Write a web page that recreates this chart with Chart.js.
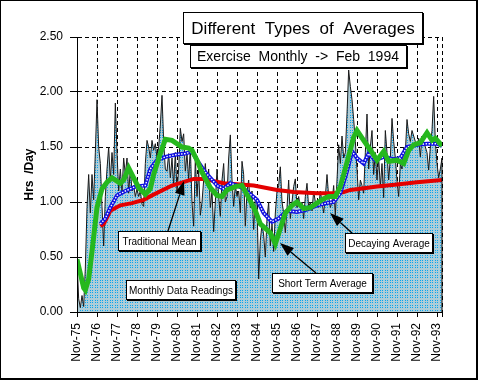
<!DOCTYPE html>
<html>
<head>
<meta charset="utf-8">
<script src="https://cdn.jsdelivr.net/npm/chart.js@4"></script>
<style>
  body { margin: 0; background: #fff; }
  canvas { display: block; }
</style>
</head>
<body>
<canvas id="avgChart" width="478" height="380"></canvas>
<script>
// one tick label per November
const yearLabels = ["Nov-75", "Nov-76", "Nov-77", "Nov-78", "Nov-79", "Nov-80", "Nov-81",
  "Nov-82", "Nov-83", "Nov-84", "Nov-85", "Nov-86", "Nov-87", "Nov-88", "Nov-89",
  "Nov-90", "Nov-91", "Nov-92", "Nov-93"];

// monthly readings, Nov-75 .. Feb-94 (hrs/day)
const readings = [
  0.48, 0.12, 0.04, 0.15, 0.05, 0.40, 0.95, 1.25, 0.90, 1.25, 1.02, 1.45,
  1.93, 1.50, 1.35, 0.96, 0.60, 1.05, 1.30, 1.50, 1.20, 1.45, 1.25, 1.90,
  1.45, 1.10, 1.30, 1.10, 1.40, 1.25, 1.40, 1.08, 1.30, 1.10, 1.15, 1.05,
  1.12, 1.05, 1.10, 0.98, 0.96, 1.35, 1.56, 1.50, 1.40, 1.56, 1.47, 1.53,
  1.40, 1.50, 1.70, 1.97, 1.55, 1.30, 1.28, 1.44, 1.22, 1.40, 1.15, 1.45,
  1.10, 1.30, 1.67, 1.55, 1.62, 1.28, 1.44, 1.20, 1.50, 1.00, 0.78, 1.40,
  1.05, 1.30, 0.88, 1.00, 1.20, 1.35, 1.15, 1.30, 0.95, 1.10, 0.73, 1.00,
  1.30, 1.05, 0.87, 1.20, 1.35, 1.00, 1.05, 1.40, 1.61, 1.20, 0.96, 1.15,
  1.05, 1.10, 0.90, 1.37, 1.25, 0.78, 1.10, 1.20, 0.95, 1.10, 0.75, 1.05,
  1.00, 0.30, 0.65, 0.80, 0.70, 0.50, 0.85, 1.00, 0.60, 0.80, 0.55, 0.90,
  1.10, 1.15, 1.32, 1.00, 0.90, 0.72, 0.95, 1.20, 0.85, 1.00, 1.14, 1.21,
  0.95, 1.05, 0.95, 1.00, 0.85, 1.05, 1.17, 0.95, 1.00, 0.92, 1.10, 1.00,
  0.98, 0.95, 1.10, 1.00, 0.90, 1.05, 1.25, 1.05, 0.95, 1.00, 1.15, 0.88,
  1.20, 1.52, 1.35, 1.60, 1.40, 1.45, 1.80, 2.20, 2.05, 1.93, 1.75, 1.55,
  1.30, 1.02, 1.20, 1.15, 1.08, 1.45, 1.80, 1.30, 1.50, 1.65, 1.25, 1.45,
  1.20, 1.40, 1.14, 1.35, 1.04, 1.65, 1.45, 1.20, 1.40, 1.76, 1.55, 1.40,
  1.20, 1.05, 1.35, 1.30, 1.50, 1.45, 1.75, 1.62, 1.55, 1.65, 1.60, 1.55,
  1.50, 1.58, 1.41, 1.60, 1.55, 1.50, 1.45, 1.29, 1.50, 1.65, 1.96, 1.55,
  1.35, 1.22, 1.30, 1.40
];

// traditional mean (month index from Nov-75, value)
const meanMonths = [14, 16, 20, 26, 33, 40, 45, 57, 70, 76, 88, 106, 120, 130, 144, 156,
  160, 164, 170, 180, 192, 204, 219];
const meanHrs = [0.78, 0.80, 0.92, 0.97, 0.99, 1.02, 1.06, 1.15, 1.21, 1.21, 1.17, 1.15,
  1.11, 1.09, 1.08, 1.08, 1.09, 1.11, 1.12, 1.14, 1.16, 1.18, 1.20];

// decaying average
const decayMonths = [14, 17, 20, 24, 29, 35, 41, 44, 48, 53, 59, 65, 69, 72, 77, 80, 84, 88,
  92, 96, 100, 104, 108, 112, 117, 121, 126, 132, 138, 144, 150, 154, 158, 162, 165, 168,
  172, 175, 179, 184, 190, 194, 198, 204, 210, 216, 219];
const decayHrs = [0.80, 0.85, 0.95, 1.06, 1.10, 1.14, 1.15, 1.30, 1.38, 1.41, 1.43, 1.44,
  1.46, 1.38, 1.27, 1.22, 1.15, 1.12, 1.17, 1.15, 1.12, 1.07, 1.02, 0.90, 0.82, 0.85, 0.92,
  0.91, 0.93, 0.97, 0.99, 1.00, 1.08, 1.28, 1.46, 1.40, 1.35, 1.44, 1.38, 1.41, 1.39, 1.40,
  1.50, 1.52, 1.53, 1.53, 1.51];

// short term average
const shortMonths = [0, 2, 4, 5, 7, 9, 12, 15, 18, 21, 24, 26, 28, 31, 34, 37, 41, 44, 46,
  50, 53, 57, 63, 67, 69, 72, 75, 80, 84, 87, 90, 95, 99, 103, 107, 110, 113, 116, 119,
  122, 125, 129, 132, 136, 140, 144, 148, 151, 155, 158, 162, 166, 168, 172, 177, 180,
  184, 187, 192, 196, 199, 202, 206, 210, 213, 215, 219];
const shortHrs = [0.48, 0.35, 0.22, 0.20, 0.30, 0.55, 0.95, 1.12, 1.18, 1.22, 1.19, 1.17,
  1.20, 1.31, 1.22, 1.13, 1.07, 1.12, 1.25, 1.44, 1.57, 1.56, 1.50, 1.49, 1.47, 1.38, 1.27,
  1.13, 1.06, 1.05, 1.11, 1.14, 1.15, 1.04, 0.92, 0.80, 0.76, 0.72, 0.62, 0.76, 0.90, 0.97,
  1.00, 0.94, 0.95, 0.99, 1.03, 1.05, 1.05, 1.14, 1.36, 1.59, 1.65, 1.56, 1.45, 1.38, 1.46,
  1.37, 1.38, 1.35, 1.47, 1.52, 1.54, 1.63, 1.56, 1.58, 1.51];

const pairs = (xs, ys) => xs.map((m, i) => ({ x: m, y: ys[i] }));

// dotted fill like the old mac pattern
function dotPattern() {
  const c = document.createElement("canvas");
  c.width = 5;
  c.height = 5;
  const g = c.getContext("2d");
  g.fillStyle = "#aecdd8";
  g.fillRect(0, 0, 5, 5);
  g.fillStyle = "#0aa4ee";
  [[0, 0], [2, 0], [0, 2], [2, 2]].forEach(([x, y]) => g.fillRect(x, y, 1, 1));
  return g.createPattern(c, "repeat");
}

function drawBox(ctx, x, y, w, h) {
  ctx.fillStyle = "#000";
  ctx.fillRect(x + 1, y + 1, w, h);
  ctx.fillStyle = "#fff";
  ctx.fillRect(x, y, w, h);
  ctx.strokeStyle = "#000";
  ctx.lineWidth = 1;
  ctx.strokeRect(x + 0.5, y + 0.5, w - 1, h - 1);
}

function drawArrow(ctx, x1, y1, x2, y2) {
  const a = Math.atan2(y2 - y1, x2 - x1);
  const len = 14, half = 5;
  const bx = x2 - len * Math.cos(a), by = y2 - len * Math.sin(a);
  ctx.strokeStyle = "#000";
  ctx.fillStyle = "#000";
  ctx.lineWidth = 1.3;
  ctx.beginPath();
  ctx.moveTo(x1, y1);
  ctx.lineTo(bx, by);
  ctx.stroke();
  ctx.beginPath();
  ctx.moveTo(x2, y2);
  ctx.lineTo(bx + half * Math.sin(a), by - half * Math.cos(a));
  ctx.lineTo(bx - half * Math.sin(a), by + half * Math.cos(a));
  ctx.closePath();
  ctx.fill();
}

// labels on the chart
const notes = [
  { text: "Traditional Mean", box: [118, 231, 83, 20], arrow: [168, 231, 184, 181] },
  { text: "Monthly Data Readings", box: [126, 280, 110, 20] },
  { text: "Short Term Average", box: [272, 273, 101, 20], arrow: [316, 273, 280, 243] },
  { text: "Decaying Average", box: [345, 233, 88, 20], arrow: [352, 233, 330, 213] }
];

const decorations = {
  id: "decorations",
  afterDatasetsDraw(chart) {
    const { ctx, chartArea: a, scales } = chart;
    ctx.save();
    // solid axes and right edge of the reading area
    ctx.strokeStyle = "#000";
    ctx.lineWidth = 1;
    ctx.beginPath();
    ctx.moveTo(a.left + 0.5, a.top);
    ctx.lineTo(a.left + 0.5, a.bottom + 0.5);
    ctx.lineTo(a.right, a.bottom + 0.5);
    const lastX = scales.x.getPixelForValue(readings.length - 1);
    ctx.moveTo(lastX, scales.y.getPixelForValue(readings[readings.length - 1]));
    ctx.lineTo(lastX, a.bottom);
    ctx.stroke();
    ctx.restore();
  },
  afterDraw(chart) {
    const ctx = chart.ctx;
    ctx.save();
    ctx.textAlign = "center";
    ctx.textBaseline = "middle";
    notes.forEach((n) => {
      if (n.arrow) drawArrow(ctx, ...n.arrow);
      drawBox(ctx, ...n.box);
      ctx.fillStyle = "#000";
      ctx.font = "10px 'Liberation Sans'";
      ctx.fillText(n.text, n.box[0] + n.box[2] / 2, n.box[1] + n.box[3] / 2 + 1);
    });
    drawBox(ctx, 183, 12, 240, 32);
    ctx.fillStyle = "#000";
    ctx.font = "17px 'Liberation Sans'";
    ctx.fillText("Different  Types  of  Averages", 303, 29);
    drawBox(ctx, 190, 45, 217, 23);
    ctx.fillStyle = "#000";
    ctx.font = "14px 'Liberation Sans'";
    ctx.fillText("Exercise  Monthly  ->  Feb  1994", 298, 57);
    // frame
    ctx.fillRect(0, 0, 478, 1);
    ctx.fillRect(0, 0, 1, 380);
    ctx.fillRect(476, 0, 2, 380);
    ctx.fillRect(0, 378, 478, 2);
    ctx.restore();
  }
};

Chart.defaults.font.family = "'Liberation Sans', Arial, sans-serif";
Chart.defaults.color = "#000";

const ctx = document.getElementById("avgChart").getContext("2d");
new Chart(ctx, {
  type: "line",
  data: {
    datasets: [
      {
        label: "Short Term Average",
        data: pairs(shortMonths, shortHrs),
        borderColor: "#26b81e",
        borderWidth: 5,
        order: 0
      },
      {
        label: "Decaying Average dots",
        data: pairs(decayMonths, decayHrs),
        borderColor: "#ffffff",
        borderWidth: 1.4,
        borderDash: [1.5, 1.5],
        order: 1
      },
      {
        label: "Decaying Average",
        data: pairs(decayMonths, decayHrs),
        borderColor: "#1010e0",
        borderWidth: 4,
        order: 2
      },
      {
        label: "Traditional Mean",
        data: pairs(meanMonths, meanHrs),
        borderColor: "#e40000",
        borderWidth: 4,
        order: 3
      },
      {
        label: "Monthly Data Readings",
        data: readings.map((v, i) => ({ x: i, y: v })),
        borderColor: "#1a1a1a",
        borderWidth: 1,
        fill: "origin",
        backgroundColor: dotPattern(),
        order: 4
      }
    ]
  },
  options: {
    responsive: false,
    animation: false,
    events: [],
    layout: { padding: { top: 37, right: 36, bottom: 0, left: 0 } },
    plugins: { legend: { display: false }, tooltip: { enabled: false } },
    elements: { point: { radius: 0 }, line: { tension: 0 } },
    scales: {
      x: {
        type: "linear",
        min: 0,
        max: readings.length - 1,
        afterBuildTicks: (s) => { s.ticks.push({ value: s.max }); },
        afterFit: (s) => { s.height = 68; },
        ticks: {
          stepSize: 12,
          includeBounds: false,
          autoSkip: false,
          maxRotation: 90,
          minRotation: 90,
          padding: 6,
          font: { size: 12 },
          callback: (v) => (v % 12 === 0 ? yearLabels[v / 12] : "")
        },
        grid: { color: "#000", lineWidth: 1, tickLength: 5, tickColor: "#000" },
        border: { color: "#000", dash: [4, 3] }
      },
      y: {
        min: 0,
        max: 2.5,
        afterFit: (s) => { s.width = 77; },
        ticks: { stepSize: 0.5, padding: 7, font: { size: 12 }, callback: (v) => v.toFixed(2) },
        grid: { color: "#000", lineWidth: 1, tickLength: 7, tickColor: "#000" },
        border: { color: "#000", dash: [4, 3] },
        title: {
          display: true,
          text: "Hrs  /Day",
          font: { size: 12, weight: "bold" },
          padding: { top: 22, bottom: 0 }
        }
      }
    }
  },
  plugins: [decorations]
});
</script>
</body>
</html>
